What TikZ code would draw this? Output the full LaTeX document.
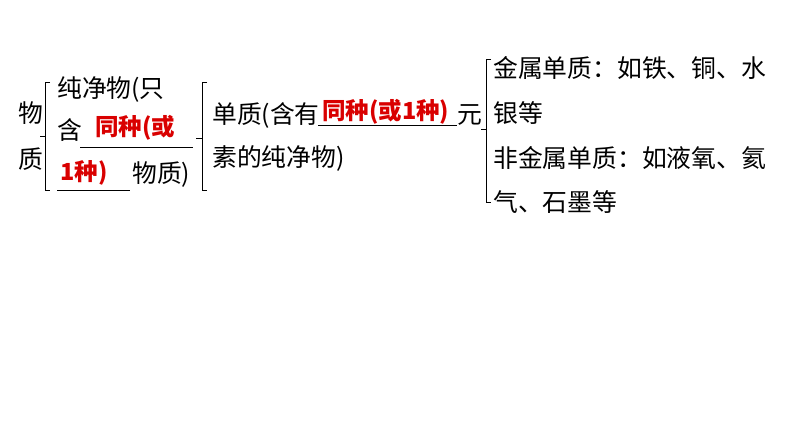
\documentclass[tikz,border=0pt]{standalone}
\usepackage{fontspec}
\setmainfont{Noto Sans CJK SC}
\usetikzlibrary{positioning}
\tikzset{
  txt/.style={anchor=west,inner sep=0pt,font=\fontsize{24.8}{25}\selectfont},
  ans/.style={anchor=west,inner sep=0pt,text=red!85!black,font=\fontsize{23.5}{24}\selectfont\bfseries},
  brk/.style={line width=0.8pt},
  uline/.style={line width=0.9pt}
}
\begin{document}
\begin{tikzpicture}[x=1pt,y=-1pt]
\useasboundingbox (0,0) rectangle (794,447);
% left column
\node[txt] (wu) at (18,113) {物};
\node[txt] (zhi) at (18,159) {质};
\draw[brk] (50,82)--(45,82)--(45,190)--(50,190);
\draw[brk] (45,136)--(40,136);
% pure substance
\node[txt] (pure1) at (57,90) {纯净物(只};
\node[txt] (pure2) at (57,130) {含};
\node[ans] (ansA) at (95,128) {同种(或};
\draw[uline] (80,147)--(193,147);
\node[ans] (ansB) at (60,173) {1种)};
\draw[uline] (57,190)--(130,190);
\node[txt] (pure3) at (132,175) {物质)};
% element
\draw[brk] (207,82)--(202,82)--(202,190)--(207,190);
\draw[brk] (202,138)--(196,138);
\node[txt] (elem1) at (212,115) {单质(含有};
\node[ans] (ansC) at (322,112) {同种(或1种)};
\draw[uline] (318,125)--(457,125);
\node[txt] (yuan) at (457,115) {元};
\node[txt] (elem2) at (212,158) {素的纯净物)};
% kinds
\draw[brk] (491,59)--(486,59)--(486,202)--(491,202);
\draw[brk] (486,129)--(481,129);
\node[txt] (metal1) at (493,68) {金属单质：如铁、铜、水};
\node[txt] (metal2) at (493,113) {银等};
\node[txt] (nonm1) at (493,158) {非金属单质：如液氧、氦};
\node[txt] (nonm2) at (493,202) {气、石墨等};
\end{tikzpicture}
\end{document}
